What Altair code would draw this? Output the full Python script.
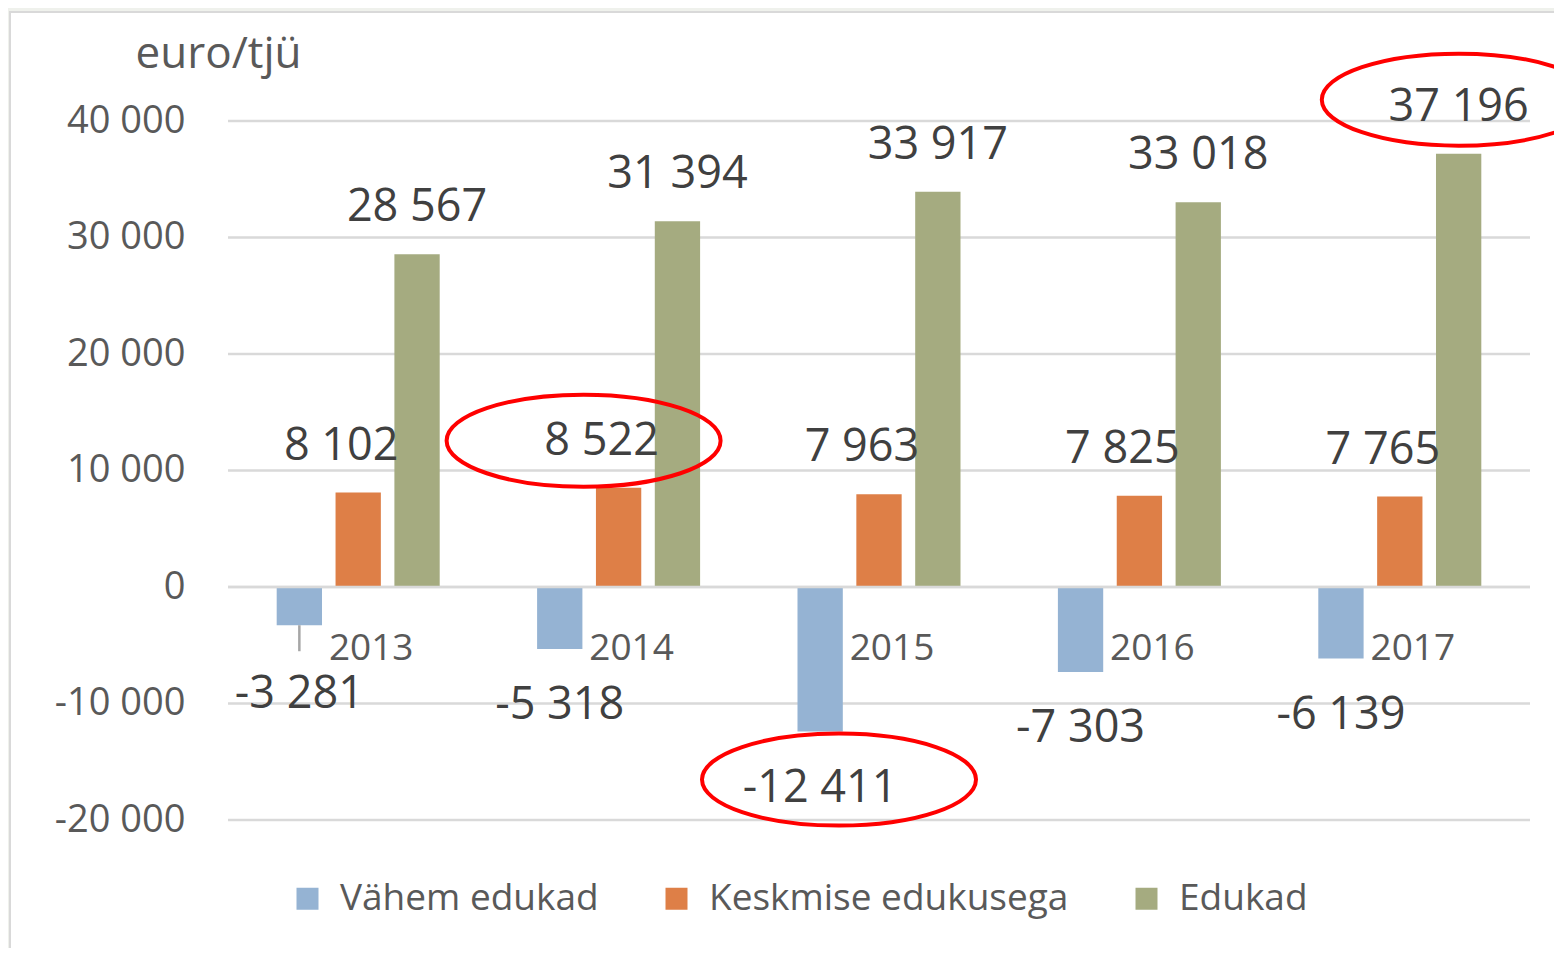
import altair as alt
import pandas as pd

years = ["2013", "2014", "2015", "2016", "2017"]
series = ["Vähem edukad", "Keskmise edukusega", "Edukad"]
vahem_edukad = [-3281, -5318, -12411, -7303, -6139]
keskmise_edukusega = [8102, 8522, 7963, 7825, 7765]
edukad = [28567, 31394, 33917, 33018, 37196]
y_ticks = [-20000, -10000, 0, 10000, 20000, 30000, 40000]
colors = ["#95B3D3", "#DE7F47", "#A5AB80"]

# highlighted (circled) values: (year, series, x pixel offset, y pixel offset)
highlights = [
    ("2014", "Keskmise edukusega", -35, -47),
    ("2015", "Vähem edukad", -40, 48),
    ("2017", "Edukad", 59, -54),
]
# label moved away from its bar, with a leader line
moved_label_year = "2013"

rows = []
for s, vals in zip(series, [vahem_edukad, keskmise_edukusega, edukad]):
    for yr, v in zip(years, vals):
        rows.append({"year": yr, "series": s, "value": v,
                     "label": f"{v:,}".replace(",", " ")})
df = pd.DataFrame(rows)

FONT = "Open Sans"
W, H = 1302, 699

xenc = alt.X("year:N", sort=years, axis=None,
             scale=alt.Scale(paddingInner=0.374, paddingOuter=0.187))
xoff = alt.XOffset("series:N", sort=series,
                   scale=alt.Scale(paddingInner=0.23, paddingOuter=0))
yenc = alt.Y(
    "value:Q",
    scale=alt.Scale(domain=[-20000, 40000], nice=False, zero=False),
    axis=alt.Axis(
        values=y_ticks, grid=False, domain=False, ticks=False, tickSize=0,
        labelPadding=43, labelFontSize=38, labelColor="#595959", labelFont=FONT,
        labelExpr="replace(replace(format(datum.value, ','), regexp(',', 'g'), ' '), '\u2212', '-')",
        title="euro/tjü", titleAngle=0, titleAlign="left", titleBaseline="alphabetic",
        titleX=-93, titleY=-54, titleFontSize=44, titleFont=FONT,
        titleFontWeight="normal", titleColor="#595959", zindex=1,
    ),
)

frame = alt.Chart(pd.DataFrame({"k": [0]})).mark_rect(
    fill="white", stroke="#D9D9D9", strokeWidth=2
).encode(x=alt.value(-218), x2=alt.value(W + 60), y=alt.value(-109), y2=alt.value(H + 160))

grid = alt.Chart(pd.DataFrame({"value": y_ticks})).mark_rule(
    color="#D9D9D9", strokeWidth=2.5
).encode(y=yenc)

bars = alt.Chart(df).mark_bar().encode(
    x=xenc, xOffset=xoff, y=yenc,
    color=alt.Color(
        "series:N", sort=series,
        scale=alt.Scale(domain=series, range=colors),
        legend=alt.Legend(
            orient="none", legendX=61, legendY=759, direction="horizontal",
            title=None, symbolType="square", symbolSize=484, symbolStrokeWidth=0,
            symbolOpacity=1, labelFontSize=37, labelFont=FONT, labelColor="#595959",
            labelOffset=14, columnPadding=59, labelLimit=0,
        ),
    ),
)

zero_line = alt.Chart(pd.DataFrame({"value": [0]})).mark_rule(
    color="#D9D9D9", strokeWidth=2.5
).encode(y=yenc)

def value_labels(data, dx, dy):
    return data.mark_text(
        font=FONT, fontSize=45, color="#404040", baseline="alphabetic",
        align="center", dx=dx, dy=dy
    ).encode(x=xenc, xOffset=xoff, y=yenc, text="label:N")

base = alt.Chart(df)
is_v = alt.FieldEqualPredicate(field="series", equal="Vähem edukad")
is_moved = alt.FieldEqualPredicate(field="year", equal=moved_label_year)
lab_v = value_labels(base.transform_filter(is_v).transform_filter(
    alt.LogicalNotPredicate(**{"not": is_moved})), 0, 70)
lab_v_moved = value_labels(base.transform_filter(is_v).transform_filter(is_moved), 0, 83)
leader = base.transform_filter(is_v).transform_filter(is_moved).mark_rule(
    color="#A6A6A6", strokeWidth=2.5, y2Offset=26
).encode(x=xenc, xOffset=xoff, y=yenc, y2="value:Q")
lab_k = value_labels(base.transform_filter(
    alt.FieldEqualPredicate(field="series", equal="Keskmise edukusega")), -17, -33)
lab_e = value_labels(base.transform_filter(
    alt.FieldEqualPredicate(field="series", equal="Edukad")), 0, -33)

year_labels = alt.Chart(pd.DataFrame({"year": years, "value": [0] * len(years)})).mark_text(
    font=FONT, fontSize=37, color="#595959", baseline="alphabetic",
    align="center", dx=13, dy=73
).encode(x=xenc, y=yenc, text="year:N")

ELLIPSE = "M -1 0 A 1 0.336 0 1 0 1 0 A 1 0.336 0 1 0 -1 0 Z"
ellipses = []
for yr, s, ox, oy in highlights:
    ellipses.append(
        alt.Chart(df).transform_filter(
            (alt.datum.year == yr) & (alt.datum.series == s)
        ).mark_point(
            shape=ELLIPSE, size=274 * 274, filled=False, stroke="#FF0000",
            strokeWidth=4, opacity=1, xOffset=ox, yOffset=oy
        ).encode(x=xenc, y=yenc)
    )

chart = alt.layer(
    frame, grid, bars, zero_line, leader, lab_v, lab_v_moved, lab_k, lab_e,
    year_labels, *ellipses
).properties(
    width=W, height=H,
    autosize=alt.AutoSizeParams(type="none"),
    padding={"left": 220, "top": 113, "right": 24, "bottom": 128},
    background="#EFF1EC",
).configure_view(stroke=None)

chart.save("out.html", embed_options={"renderer": "svg", "actions": False})
